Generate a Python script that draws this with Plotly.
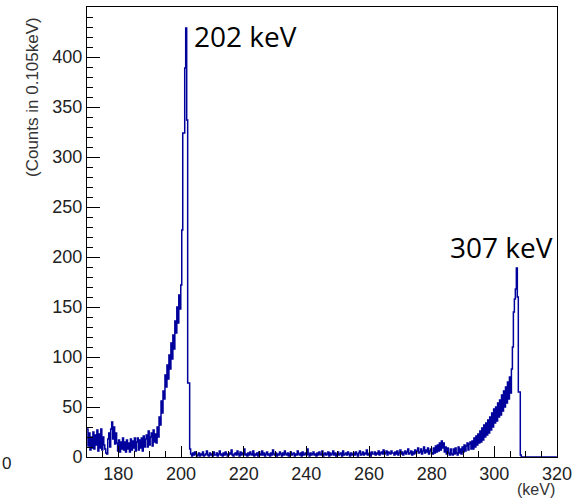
import plotly.graph_objects as go

# Histogram binning (keV)
BIN_START = 170.0
BIN_WIDTH = 0.315

# Counts per bin
counts_170_192 = [
    28, 11, 24, 7, 20, 9, 25, 8, 22, 12,
    27, 6, 23, 9, 28, 7, 20, 12, 8, 4,
    3, 18, 24, 10, 28, 35, 18, 30, 13, 24,
    14, 6, 17, 5, 15, 8, 19, 7, 15, 5,
    17, 8, 14, 5, 18, 7, 16, 9, 19, 6,
    15, 19, 7, 17, 9, 19, 6, 21, 10, 18,
    22, 10, 26, 12, 20, 24, 11, 27, 15, 23,
]
counts_192_205 = [
    14, 30, 20, 40, 32, 56, 44, 66, 58, 82,
    70, 92, 78, 102, 88, 114, 98, 122, 108, 136,
    124, 150, 134, 162, 148, 172, 227, 324, 324, 389,
    429, 337, 74, 74, 8, 3, 1, 4, 2, 5,
]
counts_205_280 = [
    3, 1, 2, 4, 1, 3, 2, 5, 1, 2, 3, 6, 2, 1, 4, 2, 3, 1, 5, 2,
    2, 4, 1, 3, 6, 2, 3, 1, 4, 2, 5, 3, 1, 2, 4, 3, 7, 2, 1, 3,
    4, 2, 6, 3, 1, 5, 2, 4, 3, 8, 2, 3, 1, 4, 2, 5, 3, 2, 6, 1,
    3, 2, 4, 1, 5, 3, 2, 6, 2, 4, 1, 3, 5, 2, 3, 1, 4, 2, 7, 3,
    2, 4, 1, 3, 2, 5, 3, 1, 4, 2, 6, 3, 2, 4, 1, 3, 5, 2, 3, 4,
    1, 3, 2, 6, 3, 2, 4, 1, 5, 2, 3, 4, 2, 8, 3, 1, 4, 2, 3, 5,
    2, 3, 1, 4, 2, 5, 3, 2, 6, 1, 3, 4, 2, 3, 5, 1, 4, 2, 3, 6,
    2, 4, 1, 3, 5, 2, 3, 4, 1, 6, 2, 3, 4, 2, 5, 3, 1, 4, 2, 3,
    4, 2, 5, 3, 1, 4, 6, 2, 3, 5, 2, 4, 3, 7, 2, 3, 4, 1, 5, 3,
    3, 5, 2, 4, 3, 6, 2, 4, 5, 3, 7, 3, 4, 6, 2, 5, 4, 3, 6, 4,
    4, 2, 5, 3, 6, 2, 4, 7, 3, 5, 2, 4, 6, 3, 5, 8, 3, 4, 6, 2,
    5, 3, 7, 4, 6, 9, 4, 5, 8, 3, 6, 10, 4, 7, 5, 9, 3, 6, 8, 4,
]
counts_280_309 = [
    3, 9, 4, 11, 5, 12, 6, 14, 7, 16, 9, 14, 5, 10, 3, 9, 4, 2, 8, 3,
    2, 8, 3, 9, 4, 2, 10, 4, 8, 3, 10, 5, 12, 6, 11, 14, 7, 13, 15, 8,
    16, 8, 19, 10, 21, 12, 23, 14, 26, 15, 29, 17, 32, 20, 34, 22, 37, 24, 40, 27,
    44, 30, 48, 34, 50, 36, 54, 40, 57, 42, 62, 46, 66, 50, 70, 54, 75, 58, 80, 64,
    88, 110, 145, 158, 168, 189, 160, 65, 65, 2,
]
counts_309_320 = [
    0, 0, 0, 0, 0, 0, 0, 0, 0, 0, 0, 0, 0, 0, 0, 0, 0, 0,
    0, 0, 0, 0, 0, 0, 0, 0, 0, 0, 0, 0, 0, 0, 0, 0, 0, 0,
]

x_ticks = [180, 200, 220, 240, 260, 280, 300, 320]
y_ticks = [0, 50, 100, 150, 200, 250, 300, 350, 400, 450]

peak_labels = ["202 keV", "307 keV"]
peak_label_pos = [(203.6, 421), (285.3, 210)]

counts = counts_170_192 + counts_192_205 + counts_205_280 + counts_280_309 + counts_309_320
edges = [BIN_START + BIN_WIDTH * i for i in range(len(counts) + 1)]
ys = counts + [counts[-1]]

fig = go.Figure()
fig.add_trace(go.Scatter(
    x=edges, y=ys, mode="lines",
    line=dict(shape="hv", color="#00009c", width=1.5),
    hoverinfo="skip",
))

fig.update_layout(
    width=584, height=500,
    margin=dict(l=87, r=27, t=7, b=43),
    paper_bgcolor="white", plot_bgcolor="white",
    showlegend=False,
    font=dict(family="Liberation Sans, Arial, sans-serif", size=18, color="#222222"),
    xaxis=dict(
        range=[170, 320], showline=True, linecolor="black", mirror=True,
        ticks="inside", ticklen=11, tickcolor="black", dtick=x_ticks[1] - x_ticks[0],
        minor=dict(dtick=5, ticklen=6, ticks="inside", tickcolor="black"),
        showgrid=False, zeroline=False, layer="above traces",
    ),
    yaxis=dict(
        range=[0, 450], showline=True, linecolor="black", mirror=True,
        ticks="inside", ticklen=13, tickcolor="black", dtick=y_ticks[1] - y_ticks[0],
        minor=dict(dtick=10, ticklen=6, ticks="inside", tickcolor="black"),
        showgrid=False, zeroline=False, layer="above traces",
    ),
)

for txt, (px_, py_) in zip(peak_labels, peak_label_pos):
    fig.add_annotation(
        x=px_, y=py_, xref="x", yref="y", text=txt, showarrow=False,
        xanchor="left", yanchor="middle",
        font=dict(family="Open Sans, Noto Sans, sans-serif", size=28, color="black"),
    )

fig.add_annotation(
    x=(33 - 87) / 470, y=(457 - 97) / 450, xref="paper", yref="paper",
    text="(Counts in 0.105keV)", textangle=-90, showarrow=False,
    xanchor="center", yanchor="middle",
    font=dict(size=17, color="#333333"),
)
fig.add_annotation(
    x=1.0, y=(457 - 490) / 450, xref="paper", yref="paper",
    text="(keV)", showarrow=False, xanchor="right", yanchor="middle",
    font=dict(size=16, color="#333333"),
)
fig.add_annotation(
    x=(0 - 87) / 470, y=(457 - 463) / 450, xref="paper", yref="paper",
    text="0", showarrow=False, xanchor="left", yanchor="middle",
    font=dict(size=17, color="#222222"),
)

fig.write_html("out.html")
